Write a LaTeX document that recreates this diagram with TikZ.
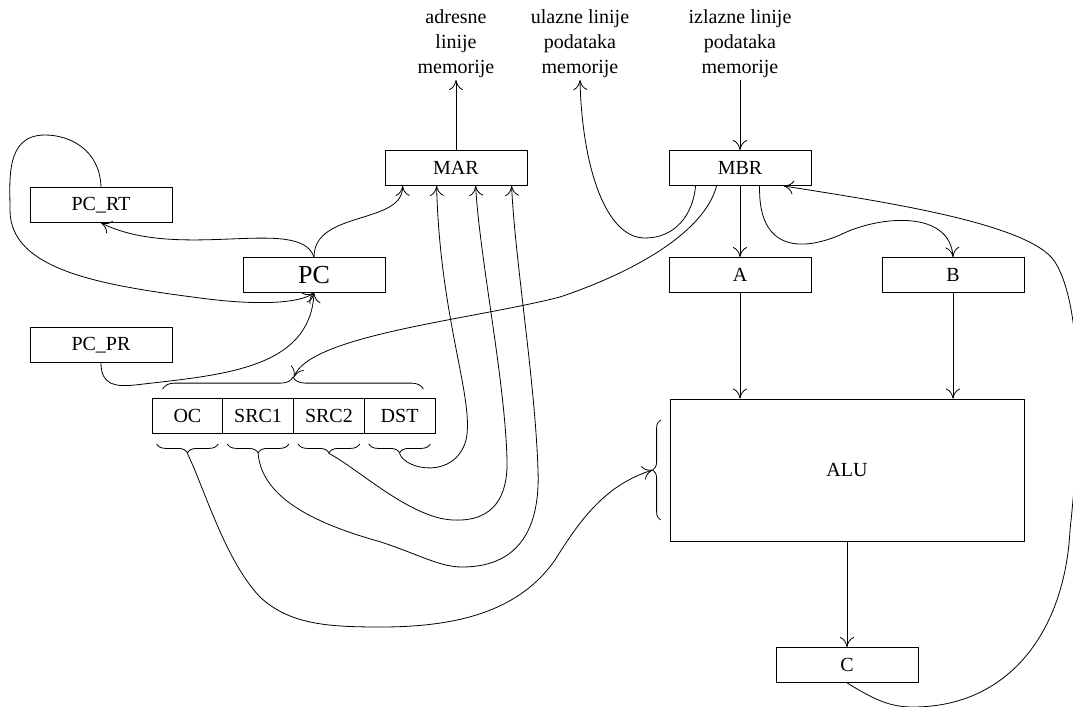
\documentclass[tikz,border=0pt]{standalone}
\usepackage{fontspec}
\setmainfont{Liberation Serif}
\usetikzlibrary{arrows.meta,decorations.pathreplacing}

\begin{document}
\begin{tikzpicture}[x=0.5pt,y=-0.5pt,thin,
	>={Computer Modern Rightarrow[length=5pt,width=7pt]},
	reg/.style={draw,minimum width=71pt,minimum height=17.5pt,inner sep=0pt},
	field/.style={draw,minimum width=35.4pt,minimum height=17.5pt,inner sep=0pt},
	memlbl/.style={align=center,anchor=south,inner sep=1pt,font=\fontsize{10}{12.5}\selectfont},
	ubrace/.style={decorate,decoration={brace,amplitude=6pt}},
	lbrace/.style={decorate,decoration={brace,mirror,amplitude=4.5pt}}]
	\useasboundingbox (0,0) rectangle (1073,707);
	% registri
	\node[reg](pcrt) at (101,205){PC\_RT};
	\node[reg,font=\fontsize{13}{15}\selectfont](pc) at (314,275){PC};
	\node[reg](pcpr) at (101,345){PC\_PR};
	\node[reg](mar) at (456,168){MAR};
	\node[reg](mbr) at (740,168){MBR};
	\node[reg](a) at (740,275){A};
	\node[reg](b) at (953,275){B};
	\node[draw,minimum width=177pt,minimum height=71pt](alu) at (847,470){ALU};
	\node[reg](c) at (847,665){C};
	% instrukcija
	\node[field](oc) at (187.4,416){OC};
	\node[field](src1) at (258.1,416){SRC1};
	\node[field](src2) at (328.9,416){SRC2};
	\node[field](dst) at (399.6,416){DST};
	% memorija
	\node[memlbl](adr) at (456,80){adresne\\linije\\memorije};
	\node[memlbl](ulz) at (580,80){ulazne linije\\podataka\\memorije};
	\node[memlbl](izl) at (740,80){izlazne linije\\podataka\\memorije};
	% zagrade
	\draw[ubrace] ([xshift=5.5pt,yshift=4.5pt]oc.north west)--([xshift=-6pt,yshift=4.5pt]dst.north east);
	\coordinate (ir-tip) at ([yshift=10.5pt]src1.north east);
	\foreach \f in {oc,src1,src2,dst}{
		\draw[lbrace] ([xshift=2.5pt,yshift=-5pt]\f.south west)--([xshift=-2.5pt,yshift=-5pt]\f.south east);
		\coordinate (\f-tip) at ([yshift=-9.75pt]\f.south);
	}
	\draw[ubrace,decoration={amplitude=4pt}] ([xshift=-4.5pt,yshift=-25pt]alu.west)--([xshift=-4.5pt,yshift=25pt]alu.west);
	\coordinate (alu-tip) at ([xshift=-8.5pt]alu.west);
	% veze
	\draw[->] (mar.north)--(adr.south);
	\draw[->] (izl.south)--(mbr.north);
	\draw[->] (mbr.south)--(a.north);
	\draw[->] (a.south)--(a.south|-alu.north);
	\draw[->] (b.south)--(b.south|-alu.north);
	\draw[->] (alu.south)--(c.north);
	\draw[->] ([xshift=13.5pt]mbr.south west) .. controls (693,215) and (675,238) .. (645,238)
		.. controls (605,238) and (582,165) .. (ulz.south);
	\draw[->] ([xshift=24pt]mbr.south west) .. controls (705,230) and (640,270) .. (560,297)
		.. controls (470,320) and (310,335) .. (ir-tip);
	\draw[->] ([xshift=45.5pt]mbr.south west) .. controls (758,250) and (800,252) .. (840,235)
		.. controls (880,215) and (950,210) .. (b.north);
	\draw[->] (c.south) .. controls (875,700) and (890,707) .. (913,707)
		.. controls (1010,707) and (1065,630) .. (1070,530)
		.. controls (1080,440) and (1085,310) .. (1055,262)
		.. controls (1030,222) and (870,200) .. ([xshift=57.5pt]mbr.south west);
	\draw[->] (pc.north) .. controls (314,210) and (403,225) .. ([xshift=9pt]mar.south west);
	\draw[->] (pc.north) .. controls (300,215) and (180,262) .. (pcrt.south);
	\draw[->] (pcrt.north) .. controls (100,150) and (70,135) .. (45,135)
		.. controls (5,135) and (10,180) .. (10,210)
		.. controls (10,270) and (100,285) .. (200,298)
		.. controls (260,306) and (300,303) .. (pc.south);
	\draw[->] (pcpr.south) .. controls (101,385) and (115,387) .. (135,385)
		.. controls (220,375) and (310,370) .. (pc.south);
	\draw[->] (dst-tip) .. controls (405,470) and (455,480) .. (466,440)
		.. controls (475,400) and (440,320) .. ([xshift=26pt]mar.south west);
	\draw[->] (src2-tip) .. controls (360,470) and (410,518) .. (453,520)
		.. controls (495,522) and (508,495) .. (507,460)
		.. controls (505,380) and (480,260) .. ([xshift=45.5pt]mar.south west);
	\draw[->] (src1-tip) .. controls (262,500) and (320,525) .. (381,542)
		.. controls (420,555) and (440,567) .. (462,567)
		.. controls (525,567) and (540,520) .. (538,470)
		.. controls (535,380) and (515,260) .. ([xshift=63.5pt]mar.south west);
	\draw[->] (oc-tip) .. controls (205,490) and (225,560) .. (260,597)
		.. controls (290,625) and (330,627) .. (381,627)
		.. controls (460,627) and (520,610) .. (555,560)
		.. controls (580,520) and (605,485) .. (alu-tip);
\end{tikzpicture}
\end{document}
